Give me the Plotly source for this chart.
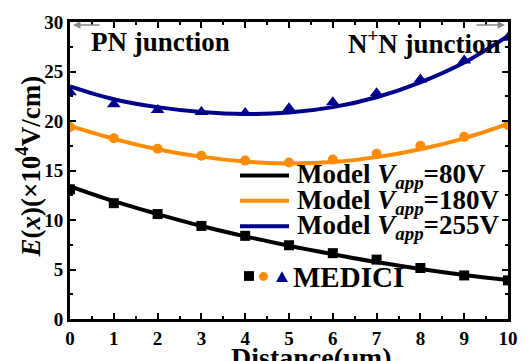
import plotly.graph_objects as go

# ---------------- data ----------------
distance = [0, 1, 2, 3, 4, 5, 6, 7, 8, 9, 10]

model_80 = [13.4, 11.9, 10.6, 9.4, 8.35, 7.4, 6.55, 5.75, 5.05, 4.45, 3.95]
model_180 = [19.5, 18.2, 17.15, 16.4, 15.9, 15.7, 15.85, 16.35, 17.15, 18.25, 19.7]
model_255 = [23.5, 22.2, 21.4, 20.9, 20.7, 20.85, 21.4, 22.4, 23.9, 25.9, 28.6]

medici_80 = [13.1, 11.7, 10.6, 9.4, 8.4, 7.45, 6.65, 6.0, 5.15, 4.4, 3.9]
medici_180 = [19.4, 18.25, 17.2, 16.5, 16.0, 15.8, 16.1, 16.7, 17.5, 18.4, 19.6]
medici_255 = [22.9, 21.7, 21.1, 20.9, 20.8, 21.3, 21.9, 22.8, 24.2, 26.1, 28.4]

x_ticks = [0, 1, 2, 3, 4, 5, 6, 7, 8, 9, 10]
y_ticks = [0, 5, 10, 15, 20, 25, 30]

legend_labels = ["Model <i>V</i><sub><i>app</i></sub>=80V",
                 "Model <i>V</i><sub><i>app</i></sub>=180V",
                 "Model <i>V</i><sub><i>app</i></sub>=255V"]
colors = ["#000000", "#FF8C00", "#00008B"]

FONT = "Liberation Serif"

# ---------------- layout geometry (pixels) ----------------
W, H = 531, 361
L, R, T, B = 70, 508, 18, 322


def px(xp):
    return (xp - L) / (R - L)


def py(yp):
    return (B - yp) / (B - T)


fig = go.Figure()

models = [model_80, model_180, model_255]
medicis = [medici_80, medici_180, medici_255]
symbols = ["square", "circle", "triangle-up"]
msizes = [10, 10, 12]

for m, c in zip(models, colors):
    fig.add_trace(go.Scatter(x=distance, y=m, mode="lines", line=dict(color=c, width=4, shape="spline"),
                             showlegend=False, hoverinfo="skip"))
for d, c, s, ms in zip(medicis, colors, symbols, msizes):
    fig.add_trace(go.Scatter(x=distance, y=d, mode="markers",
                             marker=dict(color=c, symbol=s, size=ms, line=dict(width=0)),
                             showlegend=False, hoverinfo="skip"))

axis_common = dict(
    showline=True, linecolor="black", linewidth=3, mirror="allticks",
    ticks="inside", ticklen=6, tickwidth=2, tickcolor="black",
    showgrid=False, zeroline=False,
    tickfont=dict(family=FONT, size=19, color="black", weight="bold"),
)

fig.update_xaxes(range=[0, 10], tickvals=x_ticks, minor=dict(ticks="inside", ticklen=3, tickwidth=2, dtick=0.5,
                                                             tickcolor="black"),
                 **axis_common)
fig.update_yaxes(range=[0, 30], tickvals=y_ticks, minor=dict(ticks="inside", ticklen=3, tickwidth=2, dtick=2.5,
                                                             tickcolor="black"),
                 **axis_common)

shapes = []
annotations = []

# legend lines + labels
leg_y = [175, 201, 227]
for lbl, c, yy in zip(legend_labels, colors, leg_y):
    shapes.append(dict(type="line", xref="paper", yref="paper", x0=px(240), x1=px(289), y0=py(yy), y1=py(yy),
                       line=dict(color=c, width=4)))
    annotations.append(dict(xref="paper", yref="paper", x=px(295), y=py(yy + 1), xanchor="left", yanchor="middle",
                            text=lbl, showarrow=False,
                            font=dict(family=FONT, size=27, color="black", weight="bold")))

# MEDICI legend row
shapes.append(dict(type="rect", xref="paper", yref="paper", x0=px(244), x1=px(254), y0=py(283), y1=py(273),
                   fillcolor=colors[0], line=dict(width=0)))
shapes.append(dict(type="circle", xref="paper", yref="paper", x0=px(259), x1=px(268), y0=py(283), y1=py(274),
                   fillcolor=colors[1], line=dict(width=0)))
shapes.append(dict(type="path", xref="paper", yref="paper",
                   path=f"M {px(276)} {py(284)} L {px(288)} {py(284)} L {px(282)} {py(273)} Z",
                   fillcolor=colors[2], line=dict(width=0)))
annotations.append(dict(xref="paper", yref="paper", x=px(291), y=py(279), xanchor="left", yanchor="middle",
                        text="MEDICI", showarrow=False,
                        font=dict(family=FONT, size=29, color="black", weight="bold")))

# junction labels
annotations.append(dict(xref="paper", yref="paper", x=px(89), y=py(38), xanchor="left", yanchor="middle",
                        text="PN junction", showarrow=False,
                        font=dict(family=FONT, size=27, color="black", weight="bold")))
annotations.append(dict(xref="paper", yref="paper", x=px(503), y=py(38), xanchor="right", yanchor="middle",
                        text="N<sup>+</sup>N junction", showarrow=False,
                        font=dict(family=FONT, size=27, color="black", weight="bold")))

# grey arrows
annotations.append(dict(xref="paper", yref="paper", x=px(73), y=py(21), ax=28, ay=0, text="", showarrow=True,
                        arrowhead=2, arrowsize=1, arrowwidth=1.5, arrowcolor="#888888"))
annotations.append(dict(xref="paper", yref="paper", x=px(505), y=py(21), ax=-30, ay=0, text="", showarrow=True,
                        arrowhead=2, arrowsize=1, arrowwidth=1.5, arrowcolor="#888888"))

# axis titles
annotations.append(dict(xref="paper", yref="paper", x=px(311), y=py(343), xanchor="center", yanchor="top",
                        text="Distance(μm)", showarrow=False,
                        font=dict(family=FONT, size=28, color="black", weight="bold")))
annotations.append(dict(xref="paper", yref="paper", x=px(28), y=py(166), xanchor="center", yanchor="middle",
                        text="<i>E</i>(<i>x</i>)(×10<sup>4</sup>V/cm)", showarrow=False, textangle=-90,
                        font=dict(family=FONT, size=27, color="black", weight="bold")))

fig.update_layout(
    width=W, height=H,
    margin=dict(l=L, r=W - R, t=T, b=H - B, pad=0),
    paper_bgcolor="white", plot_bgcolor="white",
    showlegend=False,
    shapes=shapes, annotations=annotations,
)

fig.write_html("out.html")
